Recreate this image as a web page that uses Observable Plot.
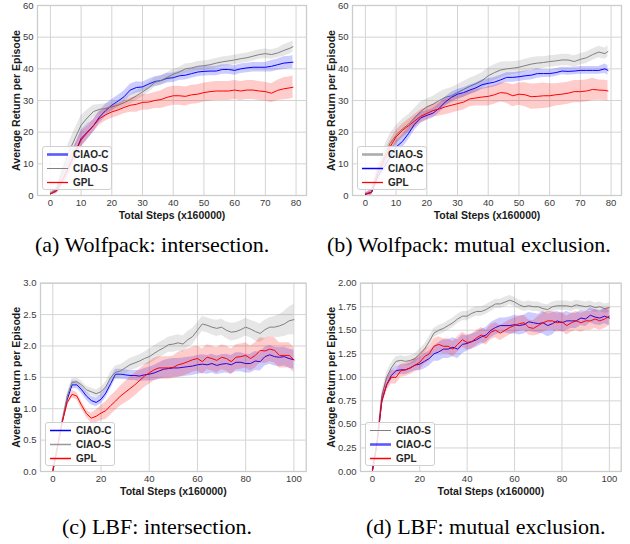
<!DOCTYPE html>
<html><head><meta charset="utf-8">
<script src="https://cdn.jsdelivr.net/npm/d3@7"></script>
<script src="https://cdn.jsdelivr.net/npm/@observablehq/plot@0.6"></script>
<style>
body{margin:0;background:#fff;}
#fig{position:relative;width:630px;height:544px;overflow:hidden;background:#fff;}
.panel{position:absolute;}
.cap{position:absolute;font-family:"Liberation Serif","Times New Roman",serif;font-size:22px;line-height:24px;color:#000;white-space:nowrap;}
.leg{position:absolute;background:rgba(255,255,255,0.85);border:1px solid #cfcfcf;border-radius:3px;box-sizing:border-box;}
.leg svg{position:absolute;left:0;top:0;}
</style></head><body><div id="fig"></div>
<script>
// ---------- data ----------
const stepsWolf = [0,2,4,6,8,10,12,14,16,18,20,22,24,26,28,30,32,34,36,38,40,42,44,46,48,50,52,54,56,58,60,62,64,66,68,70,72,74,76,78,79];
const stepsLBF = [0,2,4,6,8,10,12,14,16,18,20,22,24,26,28,30,32,34,36,38,40,42,44,46,48,50,52,54,56,58,60,62,64,66,68,70,72,74,76,78,80,82,84,86,88,90,92,94,96,98,100];

// (a) Wolfpack: intersection
const aCiaoC = [0.5,1.5,5,9,13.5,18,20,22,24.8,26.8, 28.5,29.8,31.2,33.3,34.1,34.3,35.2,36,36.3,37, 37.2,37.8,38,38.5,39,39.2,39.3,39.3,39.8,39.8, 39.5,40,40.3,40.5,40.5,40.5,40.8,41.3,41.8,42, 42.1];
const aCiaoCErr = [0.3,0.8,2,2.5,2.5,2.5,2.5,2,2,2, 1.8,1.8,1.8,1.8,1.8,1.5,1.5,1.5,1.5,1.5, 1.5,1.5,1.5,1.5,1.5,1.5,1.5,1.5,1.5,1.5, 1.5,1.5,1.5,1.5,1.5,1.5,1.8,1.8,2,2, 2];
const aCiaoS = [0.5,2,8,13.7,18,22.2,24.5,26.5,27.2,27.5, 28,28.5,29.3,30.3,31.5,32.7,34,35.7,36.3,37.3, 38.3,39,40,40.3,40.8,41,41.3,41.8,42.2,42.5, 42.8,43.2,43.5,44,44.5,44.8,44.5,45,45.8,46.5, 47];
const aCiaoSErr = [0.3,1,2.5,3,3,3,2.5,2,1.5,1.5, 1.5,1.5,1.5,1.5,1.5,1.5,1.5,1.5,1.5,1.5, 1.5,1.5,1.5,1.5,1.5,1.5,1.5,1.5,1.5,1.5, 1.5,1.5,1.5,1.5,1.5,1.5,1.5,1.5,1.8,1.8, 1.8];
const aGPL = [0.5,1.5,5,9,13.5,17.5,19.8,22,24.3,25.5, 26.4,27,27.8,28.5,28.8,29.4,29.5,30,30.3,31, 31.5,31.5,31.3,31.8,32,32.5,32.8,33,33,33, 33.3,33,33.3,33.3,33,32.8,32.3,33.2,33.7,34, 34.2];
const aGPLErr = [0.3,1,2,2.5,2.5,2.5,2,2,2,2, 2,2,2,2.2,2.5,2.5,2.5,2.5,2.8,3, 3,3,3,3,3,3,3,3,3,3, 3,3,3,3,3,3,3,3.2,3.5,3.5, 3.5];

// (b) Wolfpack: mutual exclusion
const bCiaoS = [0.5,1,7,12,16.4,19,21,22.5,24.5,26.5, 28,28.8,30,31,31.5,32.5,33.5,34.5,35.3,36.3, 37.8,38.8,39.6,40,40.2,40.5,41,41.5,41.8,42, 42.3,42.5,42.8,42.8,42.3,43,43.5,44.5,45.3,44.8, 45.5];
const bCiaoSErr = [0.3,1,2.5,3,3,3,3,3,3,3, 2.5,2.5,2.5,2.5,2.5,2.5,2.5,2.5,2.5,2.5, 2.5,2.5,2.5,2.2,2,2,2,2,2,1.8, 1.8,1.8,1.8,1.8,1.8,1.8,1.8,1.8,1.8,1.8, 1.8];
const bCiaoC = [0.3,1,6,9,12,15.3,17,19.5,22.5,24.5, 25.3,26,27.5,29.5,31,32,32.5,33.3,34,35, 35.4,35.8,36.5,37.3,37.3,37.5,37.8,38,38.5,38.5, 38.5,38.8,39.3,39.2,39.3,39.5,39.5,39.5,39.5,40, 39.5];
const bCiaoCErr = [0.3,0.8,2,2,2,2,2,2,2,1.8, 1.5,1.5,1.5,1.5,1.5,1.5,1.5,1.5,1.5,1.5, 1.5,1.5,1.5,1.5,1.5,1.5,1.5,1.5,1.5,1.2, 1.2,1.2,1.2,1.2,1.2,1.2,1.2,1.2,1.2,1.5, 1.5];
const bGPL = [0.5,1,7,11,15.3,18.5,20.5,22,23.5,25, 25.9,26.8,27.3,28,28.5,29,29.5,30.5,30.8,31.1, 31.3,31.8,32.5,32.3,31.5,32,31.8,31.2,31.3,31.5, 31.5,31.8,32,32.3,32.8,32.8,33,33.5,33.3,33.2, 33];
const bGPLErr = [0.3,1,2,2,2,2,2,2,2,2, 2,2,2.2,2.5,2.5,2.5,2.5,2.5,2.5,2.8, 3,3,3,3.2,3.5,3.5,3.8,4,4,4, 3.8,3.5,3.5,3.5,3.5,3.5,3.5,3.5,3.2,3.2, 3.2];

// (c) LBF: intersection
const cCiaoC = [0,0.4,0.8,1.15,1.38,1.38,1.3,1.2,1.13,1.1, 1.15,1.25,1.4,1.55,1.55,1.54,1.53,1.53,1.52,1.54, 1.55,1.57,1.6,1.63,1.64,1.65,1.65,1.66,1.67,1.68, 1.7,1.71,1.7,1.72,1.69,1.71,1.72,1.7,1.74,1.74, 1.72,1.72,1.76,1.75,1.83,1.86,1.83,1.82,1.83,1.8, 1.78];
const cCiaoCErr = [0.02,0.04,0.05,0.06,0.06,0.06,0.06,0.07,0.07,0.07, 0.07,0.08,0.08,0.08,0.08,0.08,0.08,0.08,0.09,0.1, 0.11,0.12,0.13,0.14,0.15,0.15,0.15,0.15,0.15,0.15, 0.15,0.15,0.15,0.15,0.15,0.15,0.15,0.15,0.15,0.15, 0.15,0.15,0.15,0.15,0.15,0.15,0.15,0.15,0.15,0.15, 0.15];
const cCiaoS = [0,0.4,0.8,1.2,1.42,1.43,1.38,1.3,1.27,1.24, 1.27,1.35,1.5,1.58,1.6,1.65,1.7,1.73,1.76,1.8, 1.83,1.88,1.93,1.97,2.02,2.03,2.05,2.03,2.1,2.15, 2.25,2.35,2.33,2.3,2.28,2.3,2.25,2.22,2.23,2.26, 2.3,2.27,2.23,2.2,2.26,2.3,2.3,2.32,2.35,2.4, 2.42];
const cCiaoSErr = [0.02,0.04,0.05,0.05,0.06,0.06,0.06,0.06,0.06,0.06, 0.07,0.08,0.08,0.1,0.1,0.1,0.1,0.1,0.1,0.1, 0.12,0.12,0.12,0.12,0.12,0.13,0.13,0.13,0.13,0.13, 0.12,0.12,0.12,0.12,0.13,0.13,0.13,0.14,0.14,0.14, 0.14,0.14,0.15,0.15,0.15,0.15,0.17,0.18,0.2,0.22, 0.24];
const cGPL = [0,0.4,0.8,1.1,1.23,1.2,1.05,0.92,0.85,0.88, 0.93,0.97,1.05,1.12,1.2,1.26,1.32,1.38,1.45,1.52, 1.57,1.62,1.65,1.65,1.65,1.66,1.7,1.72,1.75,1.78, 1.8,1.75,1.82,1.8,1.77,1.82,1.8,1.75,1.82,1.83, 1.85,1.8,1.85,1.93,1.92,1.95,1.93,1.85,1.85,1.85, 1.78];
const cGPLErr = [0.02,0.04,0.05,0.05,0.06,0.06,0.06,0.06,0.08,0.1, 0.12,0.14,0.15,0.15,0.16,0.17,0.18,0.18,0.18,0.18, 0.18,0.18,0.18,0.18,0.18,0.18,0.2,0.2,0.2,0.2, 0.2,0.2,0.2,0.2,0.2,0.2,0.2,0.2,0.2,0.2, 0.2,0.2,0.2,0.2,0.2,0.2,0.2,0.2,0.2,0.2, 0.2];

// (d) LBF: mutual exclusion
const dCiaoS = [0,0.3,0.8,1.0,1.1,1.17,1.18,1.17,1.18,1.2, 1.25,1.3,1.38,1.47,1.5,1.52,1.55,1.58,1.62,1.65, 1.65,1.68,1.7,1.7,1.72,1.75,1.78,1.78,1.8,1.82, 1.8,1.77,1.75,1.76,1.75,1.75,1.73,1.72,1.75,1.76, 1.76,1.76,1.75,1.77,1.76,1.75,1.76,1.74,1.75,1.73, 1.74];
const dCiaoSErr = [0.02,0.04,0.05,0.05,0.05,0.05,0.05,0.05,0.05,0.05, 0.05,0.05,0.05,0.05,0.05,0.05,0.05,0.05,0.05,0.05, 0.05,0.05,0.05,0.05,0.05,0.05,0.05,0.05,0.05,0.05, 0.05,0.05,0.05,0.05,0.05,0.05,0.05,0.05,0.05,0.05, 0.05,0.05,0.05,0.05,0.05,0.05,0.05,0.05,0.05,0.05, 0.05];
const dCiaoC = [0,0.3,0.75,0.92,1.02,1.07,1.08,1.08,1.1,1.13, 1.14,1.17,1.2,1.25,1.27,1.3,1.3,1.32,1.3,1.35, 1.36,1.38,1.4,1.43,1.45,1.5,1.53,1.55,1.55,1.55, 1.56,1.55,1.56,1.59,1.58,1.57,1.58,1.55,1.57,1.6, 1.58,1.6,1.6,1.6,1.63,1.62,1.66,1.64,1.63,1.65, 1.63];
const dCiaoCErr = [0.02,0.04,0.05,0.05,0.05,0.05,0.05,0.05,0.05,0.06, 0.07,0.08,0.08,0.08,0.1,0.1,0.1,0.1,0.1,0.1, 0.08,0.08,0.08,0.08,0.08,0.08,0.08,0.08,0.08,0.09, 0.1,0.1,0.1,0.1,0.1,0.1,0.12,0.12,0.12,0.1, 0.1,0.1,0.08,0.08,0.08,0.08,0.08,0.08,0.08,0.08, 0.08];
const dGPL = [0,0.3,0.75,0.92,1.0,1.0,1.07,1.08,1.1,1.13, 1.16,1.22,1.25,1.33,1.35,1.33,1.33,1.3,1.35,1.4, 1.37,1.38,1.42,1.45,1.42,1.48,1.5,1.47,1.5,1.53, 1.55,1.57,1.58,1.53,1.52,1.55,1.58,1.6,1.6,1.58, 1.59,1.55,1.58,1.6,1.58,1.6,1.6,1.62,1.6,1.62, 1.65];
const dGPLErr = [0.02,0.05,0.07,0.07,0.07,0.07,0.07,0.07,0.07,0.07, 0.08,0.08,0.08,0.08,0.08,0.08,0.08,0.08,0.08,0.08, 0.08,0.08,0.08,0.08,0.08,0.08,0.08,0.08,0.08,0.08, 0.08,0.08,0.08,0.08,0.08,0.1,0.1,0.1,0.1,0.1, 0.1,0.1,0.1,0.1,0.1,0.1,0.1,0.1,0.1,0.1, 0.1];

const xTicksWolf = [0,10,20,30,40,50,60,70,80];
const yTicksWolf = [0,10,20,30,40,50,60];
const xTicksLBF = [0,20,40,60,80,100];
const yTicksC = [0,0.5,1.0,1.5,2.0,2.5,3.0];
const yTicksD = [0,0.25,0.5,0.75,1.0,1.25,1.5,1.75,2.0];
const captions = ["(a) Wolfpack: intersection.","(b) Wolfpack: mutual exclusion.","(c) LBF: intersection.","(d) LBF: mutual exclusion."];
const xLabel = "Total Steps (x160000)";
const yLabel = "Average Return per Episode";
const colors = {"CIAO-C":"#0000ff","CIAO-S":"#808080","GPL":"#ff0000"};

// ---------- build ----------
function rows(xs, mean, err){ return xs.map((x,i)=>({x, y:mean[i], lo:mean[i]-err[i], hi:mean[i]+err[i]})); }

const panels = [
  {left:0, top:0, w:315, h:226, ml:37, mr:9, mt:5, mb:31, xd:[-4.2,83.4], yd:[0,60], xt:xTicksWolf, yt:yTicksWolf, yfmt:d3.format("d"), ylab:-21, capX:35, capY:233,
   series:[["CIAO-C",stepsWolf,aCiaoC,aCiaoCErr],["CIAO-S",stepsWolf,aCiaoS,aCiaoSErr],["GPL",stepsWolf,aGPL,aGPLErr]],
   legend:[["CIAO-C",2.6,0.65],["CIAO-S",1,1],["GPL",1.3,1]]},
  {left:315, top:0, w:315, h:226, ml:37, mr:9, mt:5, mb:31, xd:[-4.2,83.4], yd:[0,60], xt:xTicksWolf, yt:yTicksWolf, yfmt:d3.format("d"), ylab:-21, capX:327, capY:233,
   series:[["CIAO-S",stepsWolf,bCiaoS,bCiaoSErr],["CIAO-C",stepsWolf,bCiaoC,bCiaoCErr],["GPL",stepsWolf,bGPL,bGPLErr]],
   legend:[["CIAO-S",2.6,0.65],["CIAO-C",1.5,1],["GPL",1.3,1]]},
  {left:0, top:270, w:315, h:231, ml:40, mr:9.3, mt:12.7, mb:30, xd:[-5.1,105.1], yd:[0,3], xt:xTicksLBF, yt:yTicksC, yfmt:d3.format(".1f"), ylab:-24.3, capX:62, capY:515,
   series:[["CIAO-C",stepsLBF,cCiaoC,cCiaoCErr],["CIAO-S",stepsLBF,cCiaoS,cCiaoSErr],["GPL",stepsLBF,cGPL,cGPLErr]],
   legend:[["CIAO-C",1.5,1],["CIAO-S",1.5,0.8],["GPL",1.5,1]]},
  {left:315, top:270, w:315, h:231, ml:45, mr:9.3, mt:12.7, mb:30, xd:[-5,105], yd:[0,2], xt:xTicksLBF, yt:yTicksD, yfmt:d3.format(".2f"), ylab:-29.3, capX:366, capY:515,
   series:[["CIAO-S",stepsLBF,dCiaoS,dCiaoSErr],["CIAO-C",stepsLBF,dCiaoC,dCiaoCErr],["GPL",stepsLBF,dGPL,dGPLErr]],
   legend:[["CIAO-S",1,1],["CIAO-C",2.6,0.65],["GPL",1.5,1]]}
];

const fig = document.getElementById("fig");
const FONT = "'Liberation Sans', Arial, sans-serif";

panels.forEach((p, idx) => {
  const marks = [
    Plot.gridX(p.xt, {stroke:"#d4d4d4", strokeOpacity:1, strokeWidth:1}),
    Plot.gridY(p.yt, {stroke:"#d4d4d4", strokeOpacity:1, strokeWidth:1})
  ];
  p.series.forEach(([name, xs, m, e]) => {
    const data = rows(xs, m, e);
    marks.push(Plot.areaY(data, {x:"x", y1:"lo", y2:"hi", fill:colors[name], fillOpacity:0.2}));
    marks.push(Plot.lineY(data, {x:"x", y:"y", stroke:colors[name], strokeWidth:1}));
  });
  marks.push(
    Plot.frame({stroke:"#cccccc", strokeWidth:1.3}),
    Plot.axisX(p.xt, {tickSize:0, tickPadding:4, fontSize:9.5, fill:"#3a3a3a", label:null}),
    Plot.axisY(p.yt, {tickSize:0, tickPadding:4, fontSize:9.5, fill:"#3a3a3a", label:null, tickFormat:p.yfmt}),
    Plot.text([xLabel], {frameAnchor:"bottom", dy:20, lineAnchor:"middle", textAnchor:"middle", fontWeight:"bold", fontSize:10.5, fill:"#1a1a1a"}),
    Plot.text([yLabel], {frameAnchor:"left", dx:p.ylab, rotate:-90, lineAnchor:"middle", textAnchor:"middle", fontWeight:"bold", fontSize:10.5, fill:"#1a1a1a"})
  );
  const chart = Plot.plot({
    width:p.w, height:p.h,
    marginLeft:p.ml, marginRight:p.mr, marginTop:p.mt, marginBottom:p.mb,
    x:{domain:p.xd, axis:null}, y:{domain:p.yd, axis:null},
    style:{fontFamily:FONT, background:"transparent", overflow:"visible"},
    marks
  });
  const wrap = document.createElement("div");
  wrap.className = "panel";
  wrap.style.left = p.left + "px";
  wrap.style.top = p.top + "px";
  wrap.appendChild(chart);
  fig.appendChild(wrap);

  // legend
  const frameLeft = p.left + p.ml, frameBottom = p.top + p.h - p.mb;
  const lg = document.createElement("div");
  lg.className = "leg";
  const lw = 70, lh = 44;
  lg.style.left = (frameLeft + 5) + "px";
  lg.style.top = (frameBottom - 5 - lh) + "px";
  lg.style.width = lw + "px";
  lg.style.height = lh + "px";
  const s = d3.create("svg").attr("width", lw).attr("height", lh);
  p.legend.forEach(([name, sw, op], i) => {
    const yy = 7.5 + i * 14;
    s.append("line").attr("x1", 4).attr("x2", 25).attr("y1", yy).attr("y2", yy)
      .attr("stroke", colors[name]).attr("stroke-width", sw).attr("stroke-opacity", op);
    s.append("text").attr("x", 30).attr("y", yy).attr("dy", "0.35em")
      .attr("font-family", FONT).attr("font-size", 10).attr("font-weight", "bold")
      .attr("fill", "#262626").text(name);
  });
  lg.appendChild(s.node());
  fig.appendChild(lg);

  // caption
  const cap = document.createElement("div");
  cap.className = "cap";
  cap.style.left = p.capX + "px";
  cap.style.top = p.capY + "px";
  cap.textContent = captions[idx];
  fig.appendChild(cap);
});
</script>
</body></html>
